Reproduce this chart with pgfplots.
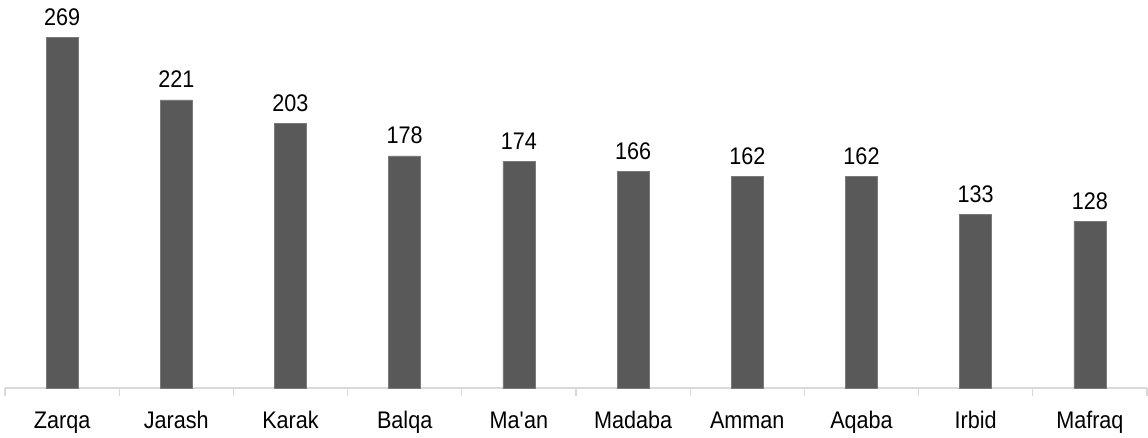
\documentclass[border=0pt]{standalone}
\usepackage{pgfplots}
\pgfplotsset{compat=1.18}
\usepackage{fontspec}
\setmainfont{Liberation Sans}[FakeStretch=0.9]
\definecolor{barc}{HTML}{595959}
\definecolor{axc}{HTML}{D9D9D9}
\begin{document}
\begin{tikzpicture}
\useasboundingbox (-2.5pt,-25pt) rectangle (571.5pt,194pt);
\begin{axis}[
  scale only axis,
  width=571pt, height=189pt,
  xmin=-0.5, xmax=9.5, ymin=0, ymax=290,
  axis x line*=bottom,
  axis y line=none,
  axis line style={axc, line width=0.6pt},
  xtick={0,...,9},
  xticklabels={Zarqa,Jarash,Karak,Balqa,Ma\textquotesingle an,Madaba,Amman,Aqaba,Irbid,Mafraq},
  major tick length=0pt,
  extra x ticks={-0.5,0.5,...,9.5},
  extra x tick labels={},
  extra x tick style={tick align=outside, major tick length=4pt, tick style={axc, line width=0.6pt}},
  xticklabel style={font=\fontsize{12}{14}\selectfont, anchor=base, yshift=-20.5pt, text=black},
  ybar, bar width=16pt,
  nodes near coords,
  every node near coord/.append style={font=\fontsize{12}{14}\selectfont, anchor=base, yshift=6pt, text=black},
  /pgf/number format/assume math mode=true,
  clip=false,
]
\addplot[fill=barc, draw=barc!80!white, line width=0.4pt] coordinates {
(0,269) (1,221) (2,203) (3,178) (4,174) (5,166) (6,162) (7,162) (8,133) (9,128)};
\end{axis}
\end{tikzpicture}
\end{document}
